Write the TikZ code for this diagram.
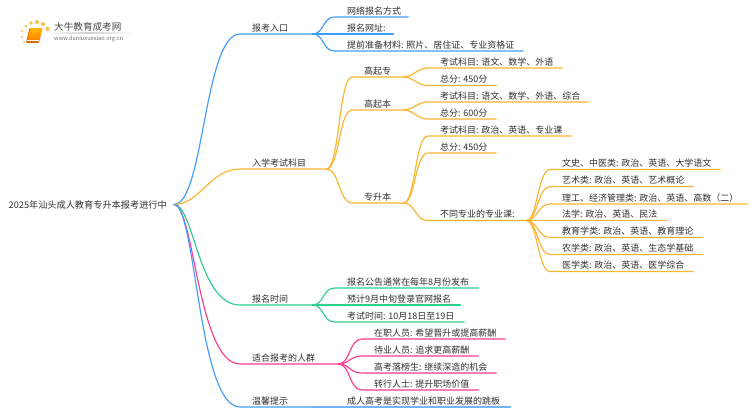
\documentclass[tikz,border=0pt]{standalone}
\usepackage{fontspec}
\setmainfont{Noto Sans CJK SC}
\definecolor{bblue}{HTML}{3F9DFB}
\definecolor{lblue}{HTML}{6DB5FD}
\definecolor{borange}{HTML}{FBB530}
\definecolor{bgreen}{HTML}{2ECF8B}
\definecolor{bpink}{HTML}{FB3D8B}
\definecolor{tcol}{HTML}{303030}
\definecolor{logodot}{HTML}{FBC04A}
\tikzset{
  topic/.style={inner sep=0pt,anchor=south west,minimum height=12pt,text height=8.2pt,text depth=1.8pt,
    text=tcol,font=\fontsize{9}{11}\selectfont},
  conn/.style={line width=1.15pt,line cap=round,line join=round}
}
% name, x of the text, right end of underline, y of underline, text
\newcommand{\topicnode}[5]{%
  \pgfmathsetlengthmacro{\topicw}{#3-#2+12}%
  \node[topic,minimum width=\topicw] (#1) at (#2-12,#4) {\hbox to \topicw{\hskip12pt #5\hss}};%
}
% colour, from, to, first control, second control
\newcommand{\linkto}[5]{%
  \draw[conn,#1] (#2) .. controls +(#4,0) and +(-#5,0) .. (#3.south west) -- (#3.south east);%
}
\begin{document}
\begin{tikzpicture}[x=1pt,y=-1pt]
\useasboundingbox (0,0) rectangle (750,410);
\fill[white] (0,0) rectangle (750,410);
% logo
\shade[left color=white,right color=white,middle color=black!18] (44,32.8) rectangle (134,33.6);
\foreach \x/\y/\r in {22/31/1.2,26/26/1.5,31/23/1.9,37/22/2,43/24/2,47.5/29/2.2,22/37/1.1,24/42/1}
  \fill[logodot] (\x,\y) circle (\r);
\fill[orange!85!black,rounded corners=1pt] (29.5,28) -- (42.5,28) -- (39,42.8) -- (26,42.8) -- cycle;
\shade[top color=yellow!45!orange,bottom color=orange,rounded corners=.8pt] (30.5,28) -- (42.5,28) -- (39.4,40) -- (27.6,40) -- cycle;
\draw[white,line width=.5pt] (27.4,40.6) -- (38.8,40.6);
\node[inner sep=0pt,anchor=west,text=black!72,font=\fontsize{9.6}{11}\selectfont] (logotitle) at (54,27) {大牛教育成考网};
\node[inner sep=0pt,anchor=west,text=black!55,font=\fontsize{5.7}{7}\selectfont] (logourl) at (54,38.7) {www.daniuxuexiao.org.cn};
% root
\node[inner sep=0pt,anchor=east,text=tcol,font=\fontsize{9.18}{11}\selectfont,text height=8.2pt,text depth=1.8pt] (root) at (167,205) {2025年汕头成人教育专升本报考进行中};
\coordinate (rootend) at (174,204.5);
% level 1
\topicnode{a}{252}{312}{34}{报考入口}
\topicnode{b}{252}{326}{169}{入学考试科目}
\topicnode{c}{252}{312}{305}{报名时间}
\topicnode{d}{252}{338}{364}{适合报考的人群}
\topicnode{e}{252}{312}{407}{温馨提示}
% level 2 : a
\topicnode{a1}{347}{408}{17}{网络报名方式}
\topicnode{a2}{347}{393}{34}{报名网址:}
\topicnode{a3}{347}{523}{51}{提前准备材料: 照片、居住证、专业资格证}
% b
\topicnode{b1}{364}{403}{77}{高起专}
\topicnode{b2}{364}{403}{110}{高起本}
\topicnode{b3}{364}{403}{203}{专升本}
\topicnode{b11}{440}{562}{68}{考试科目: 语文、数学、外语}
\topicnode{b12}{440}{496}{85.5}{总分: 450分}
\topicnode{b21}{440}{588}{102}{考试科目: 语文、数学、外语、综合}
\topicnode{b22}{440}{496}{119}{总分: 600分}
\topicnode{b31}{440}{571}{136}{考试科目: 政治、英语、专业课}
\topicnode{b32}{440}{496}{153}{总分: 450分}
\topicnode{b33}{440}{526}{220.5}{不同专业的专业课:}
\topicnode{m1}{562}{720}{169.5}{文史、中医类: 政治、英语、大学语文}
\topicnode{m2}{562}{693}{186.5}{艺术类: 政治、英语、艺术概论}
\topicnode{m3}{562}{747}{204}{理工、经济管理类: 政治、英语、高数（二）}
\topicnode{m4}{562}{666}{220.5}{法学: 政治、英语、民法}
\topicnode{m5}{562}{702}{237.5}{教育学类: 政治、英语、教育理论}
\topicnode{m6}{562}{702}{254.5}{农学类: 政治、英语、生态学基础}
\topicnode{m7}{562}{693}{271.5}{医学类: 政治、英语、医学综合}
% c
\topicnode{c1}{347}{478}{288}{报名公告通常在每年8月份发布}
\topicnode{c2}{347}{460}{305}{预计9月中旬登录官网报名}
\topicnode{c3}{347}{464}{322}{考试时间: 10月18日至19日}
% d
\topicnode{d1}{374}{505}{339}{在职人员: 希望晋升或提高薪酬}
\topicnode{d2}{374}{478}{356}{待业人员: 追求更高薪酬}
\topicnode{d3}{374}{496}{373}{高考落榜生: 继续深造的机会}
\topicnode{d4}{374}{478}{390}{转行人士: 提升职场价值}
% e
\topicnode{e1}{347}{510}{407}{成人高考是实现学业和职业发展的跳板}
% connectors
\linkto{bblue}{rootend}{a}{30}{36}
\linkto{borange}{rootend}{b}{26}{30}
\linkto{bgreen}{rootend}{c}{20}{42}
\linkto{bpink}{rootend}{d}{20}{42}
\linkto{bblue}{rootend}{e}{22}{42}
\foreach \k in {a1,a2,a3} {\linkto{bblue}{a.south east}{\k}{12}{13}}
\foreach \k in {b1,b2,b3} {\linkto{borange}{b.south east}{\k}{13}{13}}
\linkto{borange}{b1.south east}{b11}{10}{11}
\linkto{borange}{b1.south east}{b12}{10}{11}
\linkto{borange}{b2.south east}{b21}{10}{11}
\linkto{borange}{b2.south east}{b22}{10}{11}
\foreach \k in {b31,b32,b33} {\linkto{borange}{b3.south east}{\k}{12}{13}}
\foreach \k in {m1,m2,m3,m4,m5,m6,m7} {\linkto{borange}{b33.south east}{\k}{11}{12}}
\foreach \k in {c1,c2,c3} {\linkto{bgreen}{c.south east}{\k}{12}{13}}
\foreach \k in {d1,d2,d3,d4} {\linkto{bpink}{d.south east}{\k}{12}{13}}
\draw[conn,lblue] (e.south east) -- (e1.south west) -- (e1.south east);
\end{tikzpicture}
\end{document}
